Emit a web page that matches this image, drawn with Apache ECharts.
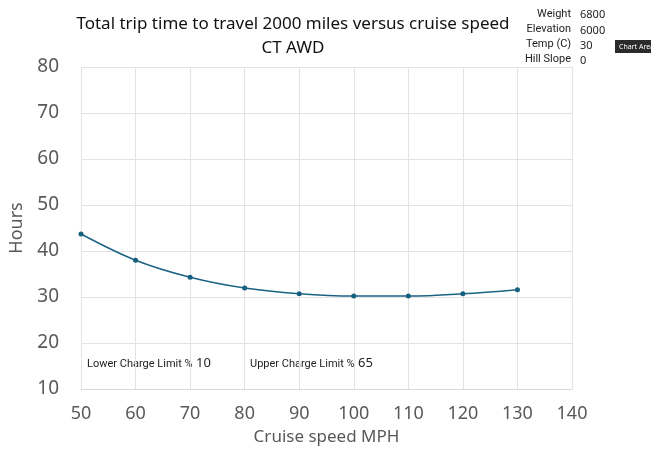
<!DOCTYPE html>
<html>
<head>
<meta charset="utf-8">
<script src="https://cdn.jsdelivr.net/npm/echarts@6/dist/echarts.min.js"></script>
<style>
html,body{margin:0;padding:0;background:#fff;}
#chart{width:651px;height:451px;}
</style>
</head>
<body>
<div id="chart"></div>
<script>
// Cruise speed (MPH) and total trip time (hours)
const speeds = [50, 60, 70, 80, 90, 100, 110, 120, 130];
const hours = [43.7, 38.0, 34.3, 31.95, 30.7, 30.2, 30.2, 30.7, 31.6];

// Scenario parameters shown in the top-right box
const paramNames = ['Weight', 'Elevation', 'Temp (C)', 'Hill Slope'];
const paramValues = ['6800', '6000', '30', '0'];

// Charge limits shown inside the plot
const chargeLabels = ['Lower Charge Limit %', 'Upper Charge Limit %'];
const chargeValues = ['10', '65'];

const FONT = '"Noto Sans", "Open Sans", sans-serif';
const NARROW = '"Liberation Sans Narrow", Roboto, sans-serif';
const chart = echarts.init(document.getElementById('chart'));

const graphics = [];
paramNames.forEach((n, i) => {
  const y = 9 + i * 15;
  graphics.push({ type: 'text', x: 571, y: y,
    style: { text: n, fill: '#222', font: '11px ' + NARROW, align: 'right' } });
  graphics.push({ type: 'text', x: 580, y: y + (i === 0 ? 0 : 1),
    style: { text: paramValues[i], fill: '#222', font: '11px ' + FONT, align: 'left' } });
});
graphics.push({ type: 'rect', shape: { x: 615, y: 40, width: 40, height: 13 },
  style: { fill: '#2b2b2b' } });
graphics.push({ type: 'text', x: 619, y: 43,
  style: { text: 'Chart Area', fill: '#fff', font: '7px ' + FONT } });
const chargeX = [[87, 196], [250, 358]];
chargeLabels.forEach((t, i) => {
  graphics.push({ type: 'text', x: chargeX[i][0], y: 359,
    style: { text: t, fill: '#222', font: '11px ' + NARROW } });
  graphics.push({ type: 'text', x: chargeX[i][1], y: 357,
    style: { text: chargeValues[i], fill: '#222', font: '13px ' + FONT } });
});

chart.setOption({
  animation: false,
  backgroundColor: '#fff',
  title: {
    text: 'Total trip time to travel 2000 miles versus cruise speed\nCT AWD',
    left: 288, top: 7, textAlign: 'center',
    textStyle: { fontFamily: FONT, fontSize: 17, fontWeight: 'normal', color: '#111', lineHeight: 24 }
  },
  grid: { left: 81, right: 79, top: 67, bottom: 62 },
  xAxis: {
    type: 'value', min: 50, max: 140, interval: 10,
    name: 'Cruise speed MPH', nameLocation: 'middle', nameGap: 40,
    nameTextStyle: { fontFamily: FONT, fontSize: 17, color: '#595959' },
    axisLine: { show: true, lineStyle: { color: '#d9d9d9' } },
    axisTick: { show: false },
    axisLabel: { fontFamily: FONT, fontSize: 18, color: '#595959', margin: 16 },
    splitLine: { show: true, lineStyle: { color: '#e3e3e3' } }
  },
  yAxis: {
    type: 'value', min: 10, max: 80, interval: 10,
    name: 'Hours', nameLocation: 'middle', nameGap: 48,
    nameTextStyle: { fontFamily: FONT, fontSize: 18, color: '#595959' },
    axisLine: { show: false },
    axisTick: { show: false },
    axisLabel: { fontFamily: FONT, fontSize: 19, color: '#595959', margin: 22 },
    splitLine: { show: true, lineStyle: { color: '#e3e3e3' } }
  },
  series: [{
    type: 'line',
    data: speeds.map((s, i) => [s, hours[i]]),
    smooth: 0.35,
    symbol: 'circle', symbolSize: 5,
    lineStyle: { color: '#1b6384', width: 1.5 },
    itemStyle: { color: '#15607f' }
  }],
  graphic: graphics
});
</script>
</body>
</html>
